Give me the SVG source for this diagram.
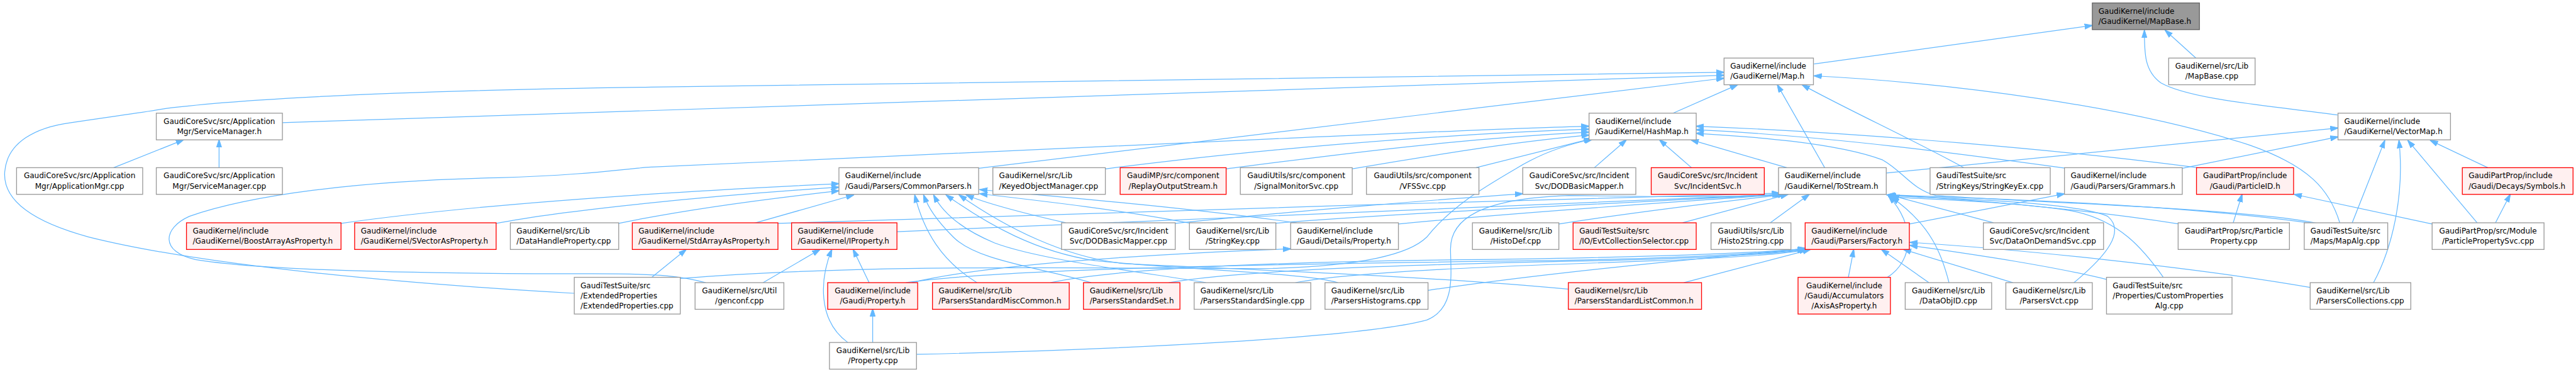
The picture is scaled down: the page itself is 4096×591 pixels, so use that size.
<svg xmlns="http://www.w3.org/2000/svg" width="4096" height="591" viewBox="0 0 4096 591">
<defs>
<style>
.nd rect{fill:#ffffff;stroke:#999999;stroke-width:1.4}
.nd rect.r{fill:#fff0f0;stroke:#ff0000}
.nd rect.root{fill:#999999;stroke:#666666}
.nd text{font-family:"DejaVu Sans","Liberation Sans",sans-serif;font-size:12.8px;fill:#000000}
.nd text.c{text-anchor:middle}
#edges path{fill:none;stroke:#63b8ff;stroke-width:1.3}
</style>
<marker id="ah" markerUnits="userSpaceOnUse" markerWidth="14" markerHeight="10" viewBox="0 0 14 10" refX="13" refY="5" orient="auto">
<path d="M0,0.5 L14,5 L0,9.5 Z" fill="#63b8ff" stroke="#63b8ff" stroke-width="1"/>
</marker>
</defs>
<rect x="0" y="0" width="4096" height="591" fill="#ffffff"/>
<g transform="scale(0.94139)">
<g id="edges" marker-end="url(#ah)">
<path d="M3064,108 L3534,43"/>
<path d="M3709,98 L3657,51"/>
<path d="M3948,194 C3830,178 3700,168 3650,140 C3622,120 3622,90 3622,51"/>
<path d="M477,207 L2912,127"/>
<path d="M970,495 C700,480 350,450 150,400 C40,370 5,330 8,290 C12,240 60,215 120,207 C200,195 240,190 280,183 C450,162 750,152 1100,147 C1800,136 2400,127 2912,122"/>
<path d="M1653,284 L2912,132"/>
<path d="M2826,191 L2935,143"/>
<path d="M3082,283 L3002,143"/>
<path d="M3317,283 C3240,240 3110,180 3044,143"/>
<path d="M3952,376 C3935,320 3900,280 3800,245 C3600,180 3300,140 3064,128"/>
<path d="M192,283 L310,236"/>
<path d="M370,283 L370,236"/>
<path d="M1192,477 C1150,466 1120,462 1000,462 C750,462 450,458 330,438 C270,425 275,385 320,365 C420,330 600,305 842,300 C1000,295 1050,285 1100,282 C1500,265 1900,245 2180,233 C2400,224 2550,216 2684,213"/>
<path d="M1867,285 C2100,255 2400,228 2684,218"/>
<path d="M2071,285 C2250,262 2450,235 2684,223"/>
<path d="M2284,285 C2420,262 2550,240 2684,228"/>
<path d="M2493,283 L2688,234"/>
<path d="M1149,470 C1500,442 1900,455 2150,453 C2300,448 2380,430 2410,400 C2450,350 2500,320 2560,285 C2600,260 2640,245 2690,235"/>
<path d="M2693,283 L2747,236"/>
<path d="M2857,283 L2803,236"/>
<path d="M3018,283 L2856,236"/>
<path d="M3490,284 C3350,265 3100,230 2865,219"/>
<path d="M3712,283 C3500,255 3150,224 2865,213"/>
<path d="M3914,377 C3800,352 3400,340 3270,330 C3230,320 3215,290 3180,270 C3100,240 2950,230 2865,225"/>
<path d="M3186,292 L3949,216"/>
<path d="M3686,284 L3949,231"/>
<path d="M3973,376 L4028,237"/>
<path d="M4009,477 C4040,420 4062,330 4052,237"/>
<path d="M4184,376 L4067,237"/>
<path d="M4202,283 L4105,237"/>
<path d="M576,377 C800,345 1100,325 1417,310"/>
<path d="M838,377 C950,355 1200,330 1417,316"/>
<path d="M1045,377 C1150,355 1300,335 1417,322"/>
<path d="M1273,377 L1442,329"/>
<path d="M1800,376 C1730,360 1670,345 1632,329"/>
<path d="M1650,477 C1590,440 1560,390 1545,329"/>
<path d="M1843,477 C1750,450 1650,440 1610,400 C1580,370 1568,350 1560,329"/>
<path d="M2037,477 C1950,462 1760,440 1680,410 C1620,385 1590,355 1577,329"/>
<path d="M2260,477 C2200,460 2000,455 1850,440 C1750,425 1670,380 1598,329"/>
<path d="M2649,488 C2400,465 2100,455 1900,445 C1800,435 1700,385 1620,329"/>
<path d="M2012,377 C1900,355 1750,338 1655,327"/>
<path d="M2190,376 C2000,350 1800,333 1655,320"/>
<path d="M1313,377 C1700,360 2500,342 3006,326"/>
<path d="M1515,391 C1900,372 2600,348 3008,328"/>
<path d="M2150,377 C2400,357 2800,340 3010,328"/>
<path d="M2362,378 C2600,355 2850,340 3012,328"/>
<path d="M2633,378 C2800,352 2950,336 3016,328"/>
<path d="M2842,376 L3020,328"/>
<path d="M2990,376 L3056,328"/>
<path d="M1548,598 C1900,590 2300,570 2410,540 C2460,520 2450,460 2450,420 C2450,370 2500,335 2650,330 C2800,332 2950,334 3006,327"/>
<path d="M3188,468 C3232,440 3236,380 3190,331"/>
<path d="M3292,477 C3280,430 3262,380 3195,333"/>
<path d="M3503,477 C3560,430 3590,390 3560,365 C3500,340 3300,336 3190,330"/>
<path d="M3367,376 L3195,330"/>
<path d="M3681,378 C3500,350 3300,335 3188,329"/>
<path d="M3914,378 C3700,347 3400,336 3187,329"/>
<path d="M3654,468 C3620,420 3580,372 3500,356 C3400,340 3250,336 3190,332"/>
<path d="M1774,477 C1900,450 2200,441 2500,438 C2800,434 2950,428 3049,420"/>
<path d="M1974,477 C2100,455 2400,446 2700,440 C2900,435 3000,428 3049,421"/>
<path d="M2188,477 C2300,456 2600,447 2800,440 C2950,434 3020,428 3052,421"/>
<path d="M2412,490 C2600,462 2900,432 3055,421"/>
<path d="M2844,477 L3058,421"/>
<path d="M3122,468 L3131,421"/>
<path d="M3258,477 L3178,421"/>
<path d="M3400,477 L3215,421"/>
<path d="M3560,472 C3450,445 3300,425 3226,414"/>
<path d="M3902,485 C3700,450 3400,420 3226,409"/>
<path d="M1530,477 C1700,452 2200,445 2600,440 C2850,436 2980,428 3050,419"/>
<path d="M1540,477 C1650,450 1900,430 2180,420"/>
<path d="M1985,377 C2200,355 2450,335 2572,327"/>
<path d="M1468,477 L1441,421"/>
<path d="M1289,477 L1385,421"/>
<path d="M1432,578 C1380,540 1385,470 1405,421"/>
<path d="M1474,578 L1474,521"/>
<path d="M1101,468 L1159,421"/>
<path d="M3772,376 L3787,328"/>
<path d="M4108,378 L3875,328"/>
<path d="M4215,376 L4240,328"/>
<path d="M3225,378 L3487,327"/>
</g>
<g id="n_MapBase_h" class="nd"><rect class="root" x="3534" y="5" width="181" height="45"/><text x="3544.5" y="23">GaudiKernel/include</text><text x="3544.5" y="40.3">/GaudiKernel/MapBase.h</text></g>
<g id="n_Map_h" class="nd"><rect x="2912" y="98" width="151" height="45"/><text x="2922.5" y="116">GaudiKernel/include</text><text x="2922.5" y="133.3">/GaudiKernel/Map.h</text></g>
<g id="n_MapBase_cpp" class="nd"><rect x="3663" y="98" width="146" height="45"/><text class="c" x="3736" y="116">GaudiKernel/src/Lib</text><text class="c" x="3736" y="133.3">/MapBase.cpp</text></g>
<g id="n_ServiceManager_h" class="nd"><rect x="264" y="191" width="213" height="45"/><text class="c" x="370.5" y="209">GaudiCoreSvc/src/Application</text><text class="c" x="370.5" y="226.3">Mgr/ServiceManager.h</text></g>
<g id="n_HashMap_h" class="nd"><rect x="2684" y="191" width="181" height="45"/><text x="2694.5" y="209">GaudiKernel/include</text><text x="2694.5" y="226.3">/GaudiKernel/HashMap.h</text></g>
<g id="n_VectorMap_h" class="nd"><rect x="3949" y="191" width="190" height="45"/><text x="3959.5" y="209">GaudiKernel/include</text><text x="3959.5" y="226.3">/GaudiKernel/VectorMap.h</text></g>
<g id="n_ApplicationMgr_cpp" class="nd"><rect x="28" y="283" width="213" height="45"/><text class="c" x="134.5" y="301">GaudiCoreSvc/src/Application</text><text class="c" x="134.5" y="318.3">Mgr/ApplicationMgr.cpp</text></g>
<g id="n_ServiceManager_cpp" class="nd"><rect x="264" y="283" width="213" height="45"/><text class="c" x="370.5" y="301">GaudiCoreSvc/src/Application</text><text class="c" x="370.5" y="318.3">Mgr/ServiceManager.cpp</text></g>
<g id="n_CommonParsers_h" class="nd"><rect x="1417" y="283" width="236" height="45"/><text x="1427.5" y="301">GaudiKernel/include</text><text x="1427.5" y="318.3">/Gaudi/Parsers/CommonParsers.h</text></g>
<g id="n_KeyedObjectManager_cpp" class="nd"><rect x="1677" y="283" width="190" height="45"/><text x="1687.5" y="301">GaudiKernel/src/Lib</text><text x="1687.5" y="318.3">/KeyedObjectManager.cpp</text></g>
<g id="n_ReplayOutputStream_h" class="nd"><rect class="r" x="1892" y="283" width="179" height="45"/><text class="c" x="1981.5" y="301">GaudiMP/src/component</text><text class="c" x="1981.5" y="318.3">/ReplayOutputStream.h</text></g>
<g id="n_SignalMonitorSvc_cpp" class="nd"><rect x="2095" y="283" width="189" height="45"/><text class="c" x="2189.5" y="301">GaudiUtils/src/component</text><text class="c" x="2189.5" y="318.3">/SignalMonitorSvc.cpp</text></g>
<g id="n_VFSSvc_cpp" class="nd"><rect x="2308" y="283" width="190" height="45"/><text class="c" x="2403" y="301">GaudiUtils/src/component</text><text class="c" x="2403" y="318.3">/VFSSvc.cpp</text></g>
<g id="n_DODBasicMapper_h" class="nd"><rect x="2572" y="283" width="191" height="45"/><text class="c" x="2667.5" y="301">GaudiCoreSvc/src/Incident</text><text class="c" x="2667.5" y="318.3">Svc/DODBasicMapper.h</text></g>
<g id="n_IncidentSvc_h" class="nd"><rect class="r" x="2789" y="283" width="191" height="45"/><text class="c" x="2884.5" y="301">GaudiCoreSvc/src/Incident</text><text class="c" x="2884.5" y="318.3">Svc/IncidentSvc.h</text></g>
<g id="n_ToStream_h" class="nd"><rect x="3004" y="283" width="182" height="45"/><text x="3014.5" y="301">GaudiKernel/include</text><text x="3014.5" y="318.3">/GaudiKernel/ToStream.h</text></g>
<g id="n_StringKeyEx_cpp" class="nd"><rect x="3260" y="283" width="203" height="45"/><text x="3270.5" y="301">GaudiTestSuite/src</text><text x="3270.5" y="318.3">/StringKeys/StringKeyEx.cpp</text></g>
<g id="n_Grammars_h" class="nd"><rect x="3487" y="283" width="199" height="45"/><text x="3497.5" y="301">GaudiKernel/include</text><text x="3497.5" y="318.3">/Gaudi/Parsers/Grammars.h</text></g>
<g id="n_ParticleID_h" class="nd"><rect class="r" x="3710" y="283" width="164" height="45"/><text class="c" x="3792" y="301">GaudiPartProp/include</text><text class="c" x="3792" y="318.3">/Gaudi/ParticleID.h</text></g>
<g id="n_Symbols_h" class="nd"><rect class="r" x="4159" y="283" width="187" height="45"/><text x="4169.5" y="301">GaudiPartProp/include</text><text x="4169.5" y="318.3">/Gaudi/Decays/Symbols.h</text></g>
<g id="n_BoostArrayAsProperty_h" class="nd"><rect class="r" x="315" y="376" width="261" height="45"/><text x="325.5" y="394">GaudiKernel/include</text><text x="325.5" y="411.3">/GaudiKernel/BoostArrayAsProperty.h</text></g>
<g id="n_SVectorAsProperty_h" class="nd"><rect class="r" x="599" y="376" width="239" height="45"/><text x="609.5" y="394">GaudiKernel/include</text><text x="609.5" y="411.3">/GaudiKernel/SVectorAsProperty.h</text></g>
<g id="n_DataHandleProperty_cpp" class="nd"><rect x="862" y="376" width="183" height="45"/><text x="872.5" y="394">GaudiKernel/src/Lib</text><text x="872.5" y="411.3">/DataHandleProperty.cpp</text></g>
<g id="n_StdArrayAsProperty_h" class="nd"><rect class="r" x="1068" y="376" width="246" height="45"/><text x="1078.5" y="394">GaudiKernel/include</text><text x="1078.5" y="411.3">/GaudiKernel/StdArrayAsProperty.h</text></g>
<g id="n_IProperty_h" class="nd"><rect class="r" x="1337" y="376" width="178" height="45"/><text x="1347.5" y="394">GaudiKernel/include</text><text x="1347.5" y="411.3">/GaudiKernel/IProperty.h</text></g>
<g id="n_DODBasicMapper_cpp" class="nd"><rect x="1793" y="376" width="192" height="45"/><text class="c" x="1889" y="394">GaudiCoreSvc/src/Incident</text><text class="c" x="1889" y="411.3">Svc/DODBasicMapper.cpp</text></g>
<g id="n_StringKey_cpp" class="nd"><rect x="2009" y="376" width="146" height="45"/><text class="c" x="2082" y="394">GaudiKernel/src/Lib</text><text class="c" x="2082" y="411.3">/StringKey.cpp</text></g>
<g id="n_Details_Property_h" class="nd"><rect x="2180" y="376" width="182" height="45"/><text x="2190.5" y="394">GaudiKernel/include</text><text x="2190.5" y="411.3">/Gaudi/Details/Property.h</text></g>
<g id="n_HistoDef_cpp" class="nd"><rect x="2487" y="376" width="146" height="45"/><text class="c" x="2560" y="394">GaudiKernel/src/Lib</text><text class="c" x="2560" y="411.3">/HistoDef.cpp</text></g>
<g id="n_EvtCollectionSelector_cpp" class="nd"><rect class="r" x="2657" y="376" width="208" height="45"/><text x="2667.5" y="394">GaudiTestSuite/src</text><text x="2667.5" y="411.3">/IO/EvtCollectionSelector.cpp</text></g>
<g id="n_Histo2String_cpp" class="nd"><rect x="2890" y="376" width="135" height="45"/><text class="c" x="2957.5" y="394">GaudiUtils/src/Lib</text><text class="c" x="2957.5" y="411.3">/Histo2String.cpp</text></g>
<g id="n_Factory_h" class="nd"><rect class="r" x="3049" y="376" width="176" height="45"/><text x="3059.5" y="394">GaudiKernel/include</text><text x="3059.5" y="411.3">/Gaudi/Parsers/Factory.h</text></g>
<g id="n_DataOnDemandSvc_cpp" class="nd"><rect x="3350" y="376" width="203" height="45"/><text x="3360.5" y="394">GaudiCoreSvc/src/Incident</text><text x="3360.5" y="411.3">Svc/DataOnDemandSvc.cpp</text></g>
<g id="n_ParticleProperty_cpp" class="nd"><rect x="3679" y="376" width="188" height="45"/><text class="c" x="3773" y="394">GaudiPartProp/src/Particle</text><text class="c" x="3773" y="411.3">Property.cpp</text></g>
<g id="n_MapAlg_cpp" class="nd"><rect x="3892" y="376" width="141" height="45"/><text x="3902.5" y="394">GaudiTestSuite/src</text><text x="3902.5" y="411.3">/Maps/MapAlg.cpp</text></g>
<g id="n_ParticlePropertySvc_cpp" class="nd"><rect x="4108" y="376" width="189" height="45"/><text class="c" x="4202.5" y="394">GaudiPartProp/src/Module</text><text class="c" x="4202.5" y="411.3">/ParticlePropertySvc.cpp</text></g>
<g id="n_ExtendedProperties_cpp" class="nd"><rect x="970" y="468" width="179" height="62"/><text x="980.5" y="486">GaudiTestSuite/src</text><text x="980.5" y="503.3">/ExtendedProperties</text><text x="980.5" y="520.6">/ExtendedProperties.cpp</text></g>
<g id="n_genconf_cpp" class="nd"><rect x="1174" y="477" width="150" height="45"/><text class="c" x="1249" y="495">GaudiKernel/src/Util</text><text class="c" x="1249" y="512.3">/genconf.cpp</text></g>
<g id="n_Gaudi_Property_h" class="nd"><rect class="r" x="1398" y="477" width="152" height="45"/><text class="c" x="1474" y="495">GaudiKernel/include</text><text class="c" x="1474" y="512.3">/Gaudi/Property.h</text></g>
<g id="n_ParsersStandardMiscCommon_h" class="nd"><rect class="r" x="1575" y="477" width="231" height="45"/><text x="1585.5" y="495">GaudiKernel/src/Lib</text><text x="1585.5" y="512.3">/ParsersStandardMiscCommon.h</text></g>
<g id="n_ParsersStandardSet_h" class="nd"><rect class="r" x="1830" y="477" width="163" height="45"/><text x="1840.5" y="495">GaudiKernel/src/Lib</text><text x="1840.5" y="512.3">/ParsersStandardSet.h</text></g>
<g id="n_ParsersStandardSingle_cpp" class="nd"><rect x="2017" y="477" width="197" height="45"/><text x="2027.5" y="495">GaudiKernel/src/Lib</text><text x="2027.5" y="512.3">/ParsersStandardSingle.cpp</text></g>
<g id="n_ParsersHistograms_cpp" class="nd"><rect x="2238" y="477" width="174" height="45"/><text x="2248.5" y="495">GaudiKernel/src/Lib</text><text x="2248.5" y="512.3">/ParsersHistograms.cpp</text></g>
<g id="n_ParsersStandardListCommon_h" class="nd"><rect class="r" x="2649" y="477" width="225" height="45"/><text x="2659.5" y="495">GaudiKernel/src/Lib</text><text x="2659.5" y="512.3">/ParsersStandardListCommon.h</text></g>
<g id="n_AxisAsProperty_h" class="nd"><rect class="r" x="3037" y="468" width="156" height="62"/><text class="c" x="3115" y="486">GaudiKernel/include</text><text class="c" x="3115" y="503.3">/Gaudi/Accumulators</text><text class="c" x="3115" y="520.6">/AxisAsProperty.h</text></g>
<g id="n_DataObjID_cpp" class="nd"><rect x="3218" y="477" width="146" height="45"/><text class="c" x="3291" y="495">GaudiKernel/src/Lib</text><text class="c" x="3291" y="512.3">/DataObjID.cpp</text></g>
<g id="n_ParsersVct_cpp" class="nd"><rect x="3388" y="477" width="146" height="45"/><text class="c" x="3461" y="495">GaudiKernel/src/Lib</text><text class="c" x="3461" y="512.3">/ParsersVct.cpp</text></g>
<g id="n_CustomPropertiesAlg_cpp" class="nd"><rect x="3558" y="468" width="212" height="62"/><text x="3568.5" y="486">GaudiTestSuite/src</text><text x="3568.5" y="503.3">/Properties/CustomProperties</text><text class="c" x="3664" y="520.6">Alg.cpp</text></g>
<g id="n_ParsersCollections_cpp" class="nd"><rect x="3902" y="477" width="170" height="45"/><text x="3912.5" y="495">GaudiKernel/src/Lib</text><text x="3912.5" y="512.3">/ParsersCollections.cpp</text></g>
<g id="n_Property_cpp" class="nd"><rect x="1401" y="578" width="147" height="45"/><text class="c" x="1474.5" y="596">GaudiKernel/src/Lib</text><text class="c" x="1474.5" y="613.3">/Property.cpp</text></g>
</g>
</svg>
